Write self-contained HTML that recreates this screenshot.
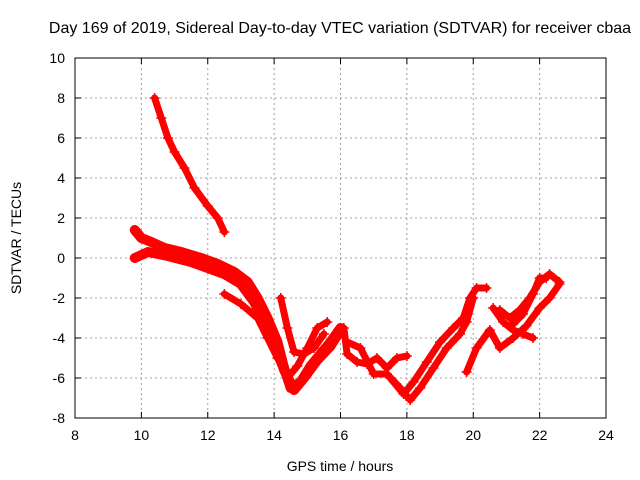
<!DOCTYPE html>
<html><head><meta charset="utf-8"><style>
body{margin:0;background:#fff;}
svg{display:block;font-family:"Liberation Sans",sans-serif;}
</style></head><body>
<svg id="chart" width="640" height="480">
<text x="340" y="33" font-size="16" text-anchor="middle">Day 169 of 2019, Sidereal Day-to-day VTEC variation (SDTVAR) for receiver cbaa</text>
<text x="340" y="471" font-size="14" text-anchor="middle">GPS time / hours</text>
<text transform="translate(21,238) rotate(-90)" font-size="14" text-anchor="middle">SDTVAR / TECUs</text>
<g id="grid"></g><g id="ticks"></g><g id="series"></g>
<rect x="75" y="58" width="531" height="360" fill="none" stroke="#000"/>
</svg>
<script>
const xTicks=[8,10,12,14,16,18,20,22,24];
const yTicks=[-8,-6,-4,-2,0,2,4,6,8,10];
const track1=[[10.4,8],[10.6,7],[10.8,6],[11.0,5.3],[11.3,4.5],[11.6,3.5],[12.0,2.6],[12.3,2.0],[12.5,1.3]];
const track2=[[9.8,1.4],[10.0,1.0],[10.3,0.8],[10.7,0.5],[11.2,0.3],[11.8,0],[12.3,-0.3],[12.8,-0.7],[13.2,-1.2],[13.5,-2],[13.8,-3],[14.1,-4.2],[14.3,-5.5],[14.5,-6.5],[14.8,-6.2],[15.1,-5.4],[15.4,-4.8],[15.7,-4.2],[16,-3.5]];
const track3=[[9.8,0],[10.2,0.3],[10.8,0.1],[11.5,-0.2],[12,-0.5],[12.5,-0.8],[13,-1.3],[13.4,-2.2],[13.7,-3.2],[14,-4.2],[14.3,-5.6],[14.6,-6.6],[14.9,-6.0],[15.3,-5.1],[15.7,-4.4],[16,-3.6]];
const track4=[[12.5,-1.8],[13,-2.3],[13.5,-3],[13.8,-4],[14.1,-5],[14.4,-6],[14.7,-5.4],[15,-4.5],[15.3,-3.5],[15.6,-3.2]];
const track5=[[14.2,-2],[14.4,-3.5],[14.6,-4.7],[14.9,-4.8],[15.2,-4.5],[15.5,-3.8]];
const track6=[[16.1,-3.5],[16.2,-4.8],[16.5,-5.2],[16.8,-5.3],[17.1,-5.0],[17.4,-5.5],[17.7,-5.0],[18.0,-4.9]];
const track7=[[16.2,-4.2],[16.6,-4.5],[17,-5.8],[17.4,-5.8],[17.8,-6.5],[18.1,-7.1],[18.4,-6.5],[18.8,-5.5],[19.2,-4.5],[19.6,-3.8],[19.8,-3.2],[20,-2]];
const track8=[[17.5,-6],[17.9,-6.8],[18.2,-6.2],[18.6,-5.2],[19,-4.2],[19.4,-3.5],[19.7,-3.0],[19.9,-2.0],[20.1,-1.5],[20.4,-1.5]];
const track9=[[19.8,-5.7],[20.1,-4.5],[20.5,-3.6],[20.8,-4.5],[21.2,-4.0],[21.6,-3.4],[22,-2.5],[22.3,-2.0],[22.6,-1.3]];
const track10=[[20.6,-2.5],[20.9,-3.2],[21.2,-3.6],[21.5,-3.8],[21.8,-4.0]];
const track11=[[20.8,-2.6],[21.1,-3.0],[21.4,-2.6],[21.7,-2.0],[22,-1.2],[22.3,-0.8],[22.6,-1.2]];
const track12=[[21.2,-3.3],[21.5,-2.8],[21.8,-1.8],[22,-1.0],[22.2,-1.0]];
const tracks=[track1,track2,track3,track4,track5,track6,track7,track8,track9,track10,track11,track12];
const L=75,R=606,T=58,B=418,NS="http://www.w3.org/2000/svg";
const sx=v=>L+(v-8)/16*(R-L);
const sy=v=>B-(v+8)/18*(B-T);
function mk(tag,attrs,parent){const e=document.createElementNS(NS,tag);for(const k in attrs)e.setAttribute(k,attrs[k]);parent.appendChild(e);return e;}
const grid=document.getElementById('grid'),ticks=document.getElementById('ticks'),series=document.getElementById('series');
xTicks.forEach(t=>{const x=sx(t);
 if(t>8&&t<24){const g=mk('line',{x1:x,x2:x,y1:T,y2:B,stroke:'#a0a0a0','stroke-dasharray':'2,3'},grid);
 
 }
 mk('line',{x1:x,x2:x,y1:B,y2:B-6,stroke:'#000'},ticks);mk('line',{x1:x,x2:x,y1:T,y2:T+6,stroke:'#000'},ticks);
 const tx=mk('text',{x:x,y:B+22,'font-size':14,'text-anchor':'middle'},ticks);tx.textContent=t;
 
 });
yTicks.forEach(t=>{const y=sy(t);
 if(t>-8&&t<10){const g=mk('line',{x1:L,x2:R,y1:y,y2:y,stroke:'#a0a0a0','stroke-dasharray':'2,3'},grid);
 
 }
 mk('line',{x1:L,x2:L+6,y1:y,y2:y,stroke:'#000'},ticks);mk('line',{x1:R,x2:R-6,y1:y,y2:y,stroke:'#000'},ticks);
 const tx=mk('text',{x:L-10,y:y+5,'font-size':14,'text-anchor':'end'},ticks);tx.textContent=t;
 
 });
tracks.forEach((tr,i)=>{
 const p=mk('polyline',{points:tr.map(d=>sx(d[0])+','+sy(d[1])).join(' '),fill:'none',stroke:'#ff0000','stroke-width':(i===1||i===2)?10:7,'stroke-linejoin':'round','stroke-linecap':'round'},series);
 
 
 tr.forEach(d=>{const x=sx(d[0]),y=sy(d[1]);
  const m=mk('path',{d:`M${x-5},${y}H${x+5}M${x},${y-5}V${y+5}`,stroke:'#ff0000','stroke-width':1.5},series);
  
  });
});
</script>
</body></html>
